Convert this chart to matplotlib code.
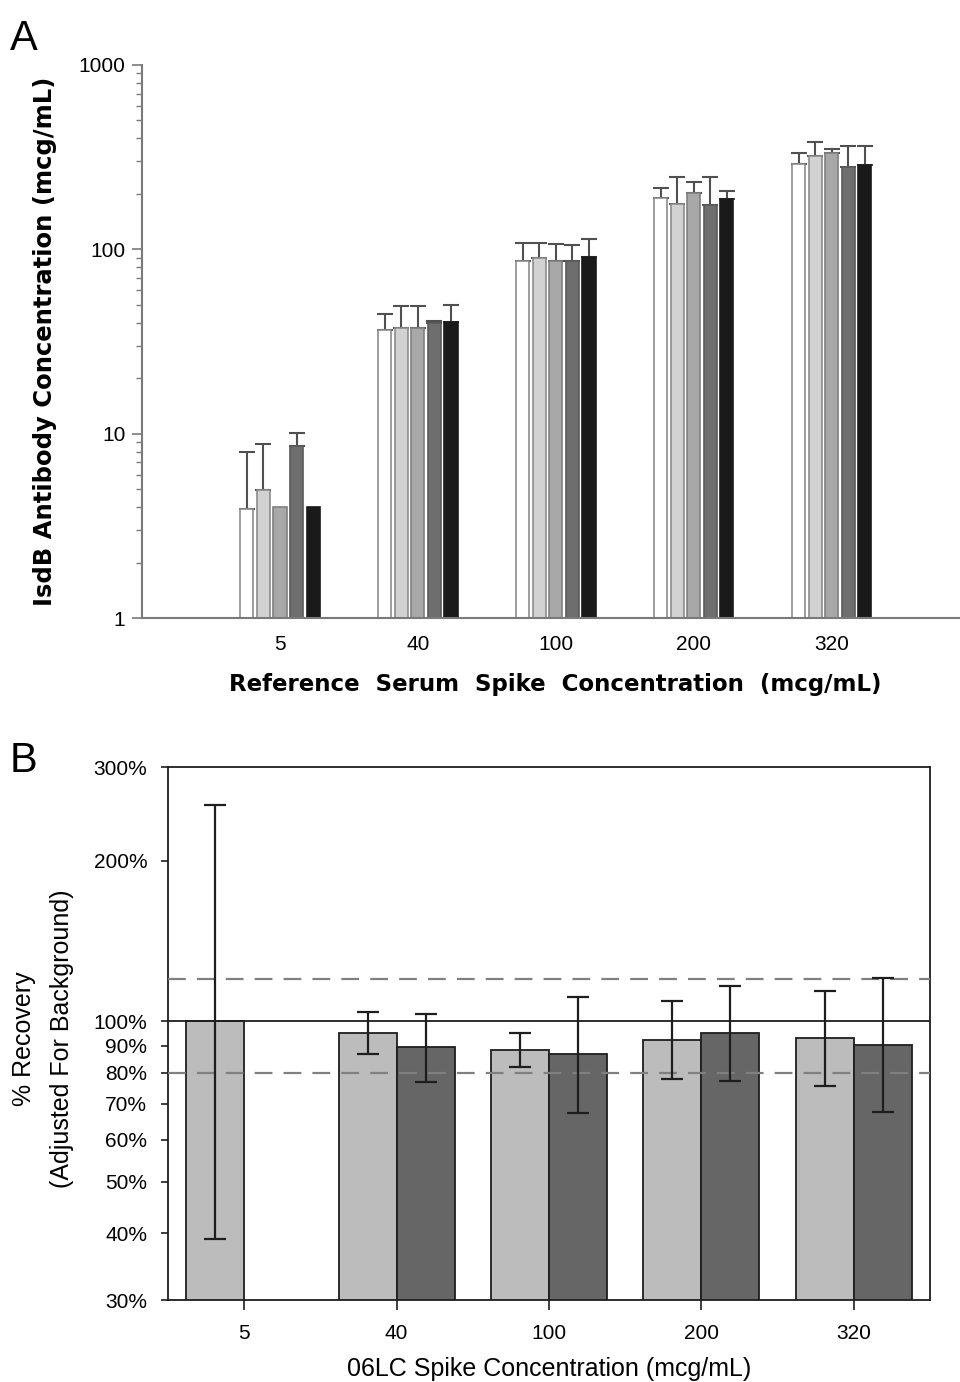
import matplotlib.pyplot as plt
import numpy as np

# panel A: measured IsdB antibody concentration, 5 assays per spike level
conc_a = ['5', '40', '100', '200', '320']
white = [3.9, 36.6, 86.9, 190, 290]
white_top = [8.0, 44.8, 108, 215, 332]
light = [4.95, 37.6, 90.2, 176, 321]
light_top = [8.8, 49.3, 108.7, 248, 381]
gray = [4.0, 37.6, 86.9, 203, 332]
gray_top = [np.nan, 49.3, 106.6, 231, 352]
dark = [8.6, 39.7, 86.2, 174, 281]
dark_top = [10.1, 41.0, 105.2, 248, 365]
black = [4.0, 40.2, 91.3, 188, 286]
black_top = [np.nan, 49.9, 114, 206, 365]

# panel B: % recovery, two series
conc_b = ['5', '40', '100', '200', '320']
rec_light = [100, 95, 88.4, 92.3, 92.9]
rec_light_hi = [255, 104, 94.9, 109.4, 114.2]
rec_light_lo = [39, 87, 82, 77.9, 75.6]
rec_dark = [np.nan, 89.5, 86.9, 95, 90.4]
rec_dark_hi = [np.nan, 103.3, 111.2, 116.3, 120.4]
rec_dark_lo = [np.nan, 77, 67.3, 77.2, 67.7]
yticks_b = [30, 40, 50, 60, 70, 80, 90, 100, 200, 300]

fig = plt.figure(figsize=(9.6, 13.82), dpi=100)

# ---------------- panel A ----------------
ax = fig.add_axes([0.148, 0.5528, 0.852, 0.4002])
ax.set_yscale('log')
ax.set_ylim(1, 1000)
ax.set_xlim(-1, 4.93)

x = np.arange(len(conc_a))
series = [(white, white_top, '#ffffff', '#8c8c8c'),
          (light, light_top, '#d2d2d2', '#8c8c8c'),
          (gray, gray_top, '#a8a8a8', '#808080'),
          (dark, dark_top, '#6e6e6e', '#5a5a5a'),
          (black, black_top, '#1a1a1a', '#1a1a1a')]
pitch = 0.12
w = 0.095
for i, (vals, tops, fc, ec) in enumerate(series):
    xs = x + (i - 2) * pitch
    vals = np.array(vals)
    tops = np.array(tops)
    ax.bar(xs, vals, width=w, color=fc, edgecolor=ec, linewidth=1.2, zorder=2)
    m = ~np.isnan(tops)
    ax.errorbar(xs[m], vals[m], yerr=[np.zeros(m.sum()), tops[m] - vals[m]],
                fmt='none', ecolor='#505050', elinewidth=1.5, capsize=6,
                capthick=1.5, zorder=1)

for s in ['top', 'right']:
    ax.spines[s].set_visible(False)
for s in ['left', 'bottom']:
    ax.spines[s].set_color('#7a7a7a')
    ax.spines[s].set_linewidth(1.5)
ax.set_xticks(x)
ax.set_xticklabels(conc_a, fontsize=15, family='Liberation Sans')
ax.tick_params(axis='x', length=0, pad=12)
ax.set_yticks([1, 10, 100, 1000])
ax.set_yticklabels(['1', '10', '100', '1000'], fontsize=15, family='Liberation Sans')
ax.tick_params(axis='y', which='major', length=7, color='#7a7a7a', width=1.2, pad=5)
ax.tick_params(axis='y', which='minor', length=4, color='#7a7a7a', width=1.0)
ax.set_xlabel('Reference  Serum  Spike  Concentration  (mcg/mL)', fontsize=16.5,
              fontweight='bold')
ax.xaxis.set_label_coords((555 - 142) / 818, -0.1)
ax.set_ylabel('IsdB Antibody Concentration (mcg/mL)', fontsize=17.5,
              fontweight='bold')
ax.yaxis.set_label_coords(-0.104, 0.5)

fig.text(10 / 960, 1 - 50 / 1382, 'A', fontsize=30, family='Liberation Sans')

# ---------------- panel B ----------------
bx = fig.add_axes([0.175, 0.0593, 0.79375, 0.3857])
bx.set_yscale('log')
bx.set_ylim(30, 300)
bx.set_xlim(-0.5, 4.5)
xb = np.arange(len(conc_b))
bw = 0.38

rl = np.array(rec_light)
bx.bar(xb - bw / 2, rl, width=bw, color='#bcbcbc', edgecolor='#1e1e1e',
       linewidth=1.3, zorder=2)
bx.errorbar(xb - bw / 2, rl, yerr=[rl - np.array(rec_light_lo), np.array(rec_light_hi) - rl],
            fmt='none', ecolor='#1e1e1e', elinewidth=1.6, capsize=8, capthick=1.6, zorder=4)

rd = np.array(rec_dark)
md = ~np.isnan(rd)
bx.bar(xb[md] + bw / 2, rd[md], width=bw, color='#666666', edgecolor='#1e1e1e',
       linewidth=1.3, zorder=2)
bx.errorbar(xb[md] + bw / 2, rd[md],
            yerr=[rd[md] - np.array(rec_dark_lo)[md], np.array(rec_dark_hi)[md] - rd[md]],
            fmt='none', ecolor='#1e1e1e', elinewidth=1.6, capsize=8, capthick=1.6, zorder=4)

bx.axhline(120, color='#808080', lw=1.6, dashes=(8, 5), zorder=3)
bx.axhline(80, color='#808080', lw=1.6, dashes=(8, 5), zorder=3)
bx.axhline(100, color='#1e1e1e', lw=1.3, zorder=3)

for s in bx.spines.values():
    s.set_color('#1e1e1e')
    s.set_linewidth(1.3)
bx.set_yticks(yticks_b)
bx.set_yticklabels([f'{v}%' for v in yticks_b], fontsize=15, family='Liberation Sans')
bx.yaxis.set_minor_locator(plt.NullLocator())
bx.tick_params(axis='y', length=5, width=1.2, color='#1e1e1e', pad=10)
bx.set_xticks(xb)
bx.set_xticklabels(conc_b, fontsize=15, family='Liberation Sans')
bx.tick_params(axis='x', length=7, width=1.2, color='#1e1e1e', pad=10)
bx.set_xlabel('06LC Spike Concentration (mcg/mL)', fontsize=18,
              family='Liberation Sans')
bx.xaxis.set_label_coords(0.5, -0.106)
bx.set_ylabel('% Recovery\n(Adjusted For Background)', fontsize=18,
              family='Liberation Sans', linespacing=1.75)
bx.yaxis.set_label_coords(-0.123, 0.49)

fig.text(10 / 960, 1 - 772 / 1382, 'B', fontsize=30, family='Liberation Sans')

fig.savefig('out.png', dpi=100)
